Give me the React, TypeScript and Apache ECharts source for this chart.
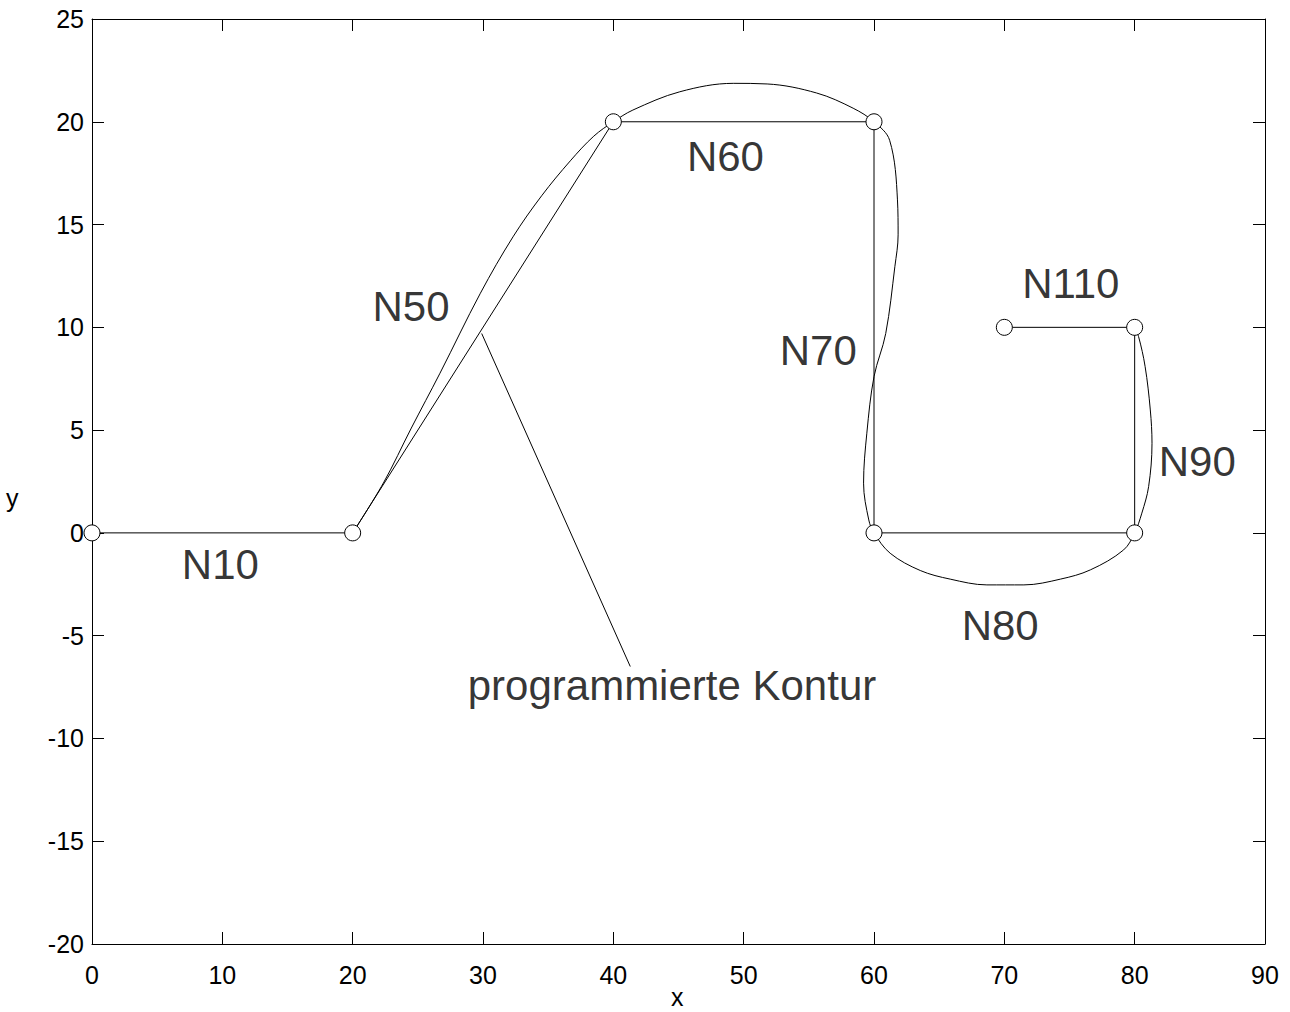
import React, { useEffect, useRef } from "react";
import * as echarts from "echarts";

// programmed contour (straight segments) with its block end points
const contourX = [0, 20, 40, 60, 60, 80, 80, 70];
const contourY = [0, 0, 20, 20, 0, 0, 10, 10];

// smoothed (spline) contour
const splineX = [
  20, 22.36, 24.5, 26.7, 29.8, 32.3, 34.5, 36.7, 38.5, 40,
  41.5, 45.1, 49.2, 51.8, 55.6, 58.4, 60,
  61.2, 61.8, 61.85, 61.6, 60.9, 60.0, 59.45, 59.2, 59.6, 60,
  61.24, 63.55, 65.85, 68.66, 71.5, 74.3, 76.6, 79.15, 80,
  80.55, 81.07, 81.33, 81.2, 80.8, 80.3, 80,
];
const splineY = [
  0, 2.43, 5.1, 7.77, 11.66, 14.4, 16.4, 18.1, 19.3, 20,
  20.57, 21.46, 21.87, 21.84, 21.4, 20.66, 20,
  19.1, 16.2, 14.5, 12.95, 9.7, 7.6, 4.85, 2.42, 0.63, 0,
  -0.99, -1.83, -2.25, -2.53, -2.53, -2.25, -1.8, -0.83, 0,
  0.96, 2.25, 4.36, 5.98, 8.1, 9.55, 10,
];

// block labels
const blockNames = ["N10", "N50", "N60", "N70", "N80", "N90", "N110"];
const blockX = [9.85, 24.48, 48.6, 55.72, 69.68, 84.8, 75.1];
const blockY = [-1.55, 10.99, 18.29, 8.87, -4.5, 3.45, 12.13];

// annotation
const annotationX = [29.9, 41.3];
const annotationY = [9.7, -6.5];
const annotationText = "programmierte Kontur";
const annotationPosX = 44.5;
const annotationPosY = -7.44;

const FONT = "'Liberation Sans', Arial, sans-serif";
const LABEL_SIZE = 42;

export default function App() {
  const ref = useRef<HTMLDivElement>(null);
  useEffect(() => {
    const chart = echarts.init(ref.current!, null, { renderer: "svg" });
    const pairs = (xs: number[], ys: number[]) => xs.map((x, i) => [x, ys[i]]);
    const axisCommon = {
      type: "value" as const,
      axisLine: { show: true, onZero: false, lineStyle: { color: "#000", width: 1 } },
      axisTick: { show: true, inside: true, length: 12, lineStyle: { color: "#000", width: 1 } },
      splitLine: { show: false },
    };
    const labelStyle = {
      show: true,
      position: "inside",
      formatter: (p: any) => p.name,
      fontSize: LABEL_SIZE,
      fontFamily: FONT,
      color: "#000",
      align: "center",
      verticalAlign: "middle",
    };
    const option: any = {
      animation: false,
      backgroundColor: "#fff",
      textStyle: { fontFamily: FONT },
      grid: { left: 92, right: 25, top: 19, bottom: 68, containLabel: false },
      xAxis: [
        {
          ...axisCommon,
          position: "bottom",
          min: 0,
          max: 90,
          interval: 10,
          axisLabel: { show: true, color: "#000", fontSize: 25, fontFamily: FONT, margin: 18 },
        },
        {
          ...axisCommon,
          position: "top",
          min: 0,
          max: 90,
          interval: 10,
          axisLabel: { show: false },
        },
      ],
      yAxis: [
        {
          ...axisCommon,
          position: "left",
          min: -20,
          max: 25,
          interval: 5,
          axisLabel: { show: true, color: "#000", fontSize: 25, fontFamily: FONT, margin: 8 },
        },
        {
          ...axisCommon,
          position: "right",
          min: -20,
          max: 25,
          interval: 5,
          axisLabel: { show: false },
        },
      ],
      graphic: [
        {
          type: "text",
          left: 671,
          top: 984,
          style: { text: "x", fontSize: 25, fontFamily: FONT, fill: "#000" },
        },
        {
          type: "text",
          left: 6,
          top: 485,
          style: { text: "y", fontSize: 25, fontFamily: FONT, fill: "#000" },
        },
      ],
      series: [
        {
          type: "line",
          data: pairs(splineX, splineY),
          smooth: 0.35,
          showSymbol: false,
          symbol: "none",
          lineStyle: { color: "#000", width: 1 },
          z: 2,
        },
        {
          type: "line",
          data: pairs(annotationX, annotationY),
          showSymbol: false,
          symbol: "none",
          lineStyle: { color: "#000", width: 1 },
          z: 2,
        },
        {
          type: "line",
          data: pairs(contourX, contourY),
          symbol: "circle",
          symbolSize: 16,
          showSymbol: true,
          clip: false,
          itemStyle: { color: "#fff", borderColor: "#000", borderWidth: 1 },
          lineStyle: { color: "#000", width: 1 },
          z: 3,
        },
        {
          type: "scatter",
          data: blockNames.map((n, i) => ({ value: [blockX[i], blockY[i]], name: n })),
          symbolSize: 1,
          itemStyle: { color: "transparent" },
          label: labelStyle,
          z: 4,
        },
        {
          type: "scatter",
          data: [{ value: [annotationPosX, annotationPosY], name: annotationText }],
          symbolSize: 1,
          itemStyle: { color: "transparent" },
          label: labelStyle,
          z: 4,
        },
      ],
    };
    chart.setOption(option);
    return () => chart.dispose();
  }, []);
  return (
    <div
      ref={ref}
      style={{ position: "fixed", left: 0, top: 0, width: 1290, height: 1012, background: "#fff" }}
    />
  );
}
